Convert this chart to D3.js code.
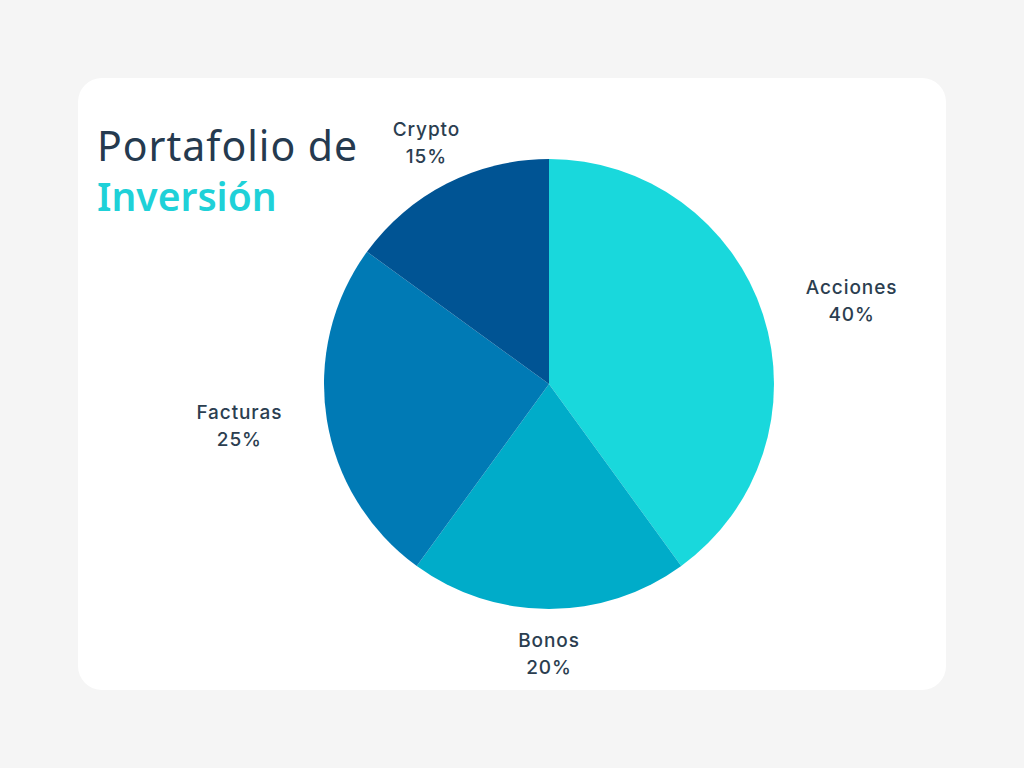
<!DOCTYPE html>
<html><head><meta charset="utf-8">
<script src="https://cdn.jsdelivr.net/npm/d3@7"></script>
<style>
html,body{margin:0;padding:0;background:#f5f5f5;}
svg{display:block;}
</style></head>
<body>
<svg id="chart" width="1024" height="768"></svg>
<script>
const categories = ["Acciones", "Bonos", "Facturas", "Crypto"];
const values = [40, 20, 25, 15];
const colors = ["#19d8dc", "#00acc9", "#007ab5", "#005494"];
const titleLine1 = "Portafolio de";
const titleLine2 = "Inversión";

const svg = d3.select("#chart");
svg.append("rect").attr("x",0).attr("y",0).attr("width",1024).attr("height",768).attr("fill","#f5f5f5");
svg.append("rect").attr("x",78).attr("y",78).attr("width",868).attr("height",612).attr("rx",24).attr("fill","#ffffff");

svg.append("text").attr("x",97).attr("y",161).attr("font-family","'Noto Sans', 'Open Sans', sans-serif")
  .attr("font-size",41).attr("letter-spacing",1).attr("fill","#253a4f").text(titleLine1);
svg.append("text").attr("x",97).attr("y",211).attr("font-family","'Noto Sans', 'Open Sans', sans-serif")
  .attr("font-size",39).attr("font-weight",600).attr("fill","#1fd1d8").text(titleLine2);

const cx = 549, cy = 384, R = 225;
const data = categories.map((c,i)=>({cat:c, value:values[i], color:colors[i]}));
const pie = d3.pie().value(d=>d.value).sort(null);
const arcs = pie(data);
const arc = d3.arc().innerRadius(0).outerRadius(R);
const labelArc = d3.arc().innerRadius(R*1.2).outerRadius(R*1.2);

const g = svg.append("g").attr("transform",`translate(${cx},${cy})`);
g.selectAll("path").data(arcs).join("path").attr("d",arc).attr("fill",d=>d.data.color);

arcs.forEach(d=>{
  const [lx, ly] = labelArc.centroid(d);
  const t = g.append("text").attr("font-family","Inter, 'Noto Sans', sans-serif")
    .attr("font-size",19).attr("font-weight",500).attr("letter-spacing",0.9)
    .attr("fill","#2b3e50").attr("text-anchor","middle");
  const t1 = t.append("tspan").attr("x",0).attr("y",ly - 7).text(d.data.cat);
  const t2 = t.append("tspan").attr("x",0).attr("y",ly + 20).text(d.data.value + "%");
  const w = Math.max(t1.node().getComputedTextLength(), t2.node().getComputedTextLength());
  const mid = (d.startAngle + d.endAngle)/2;
  const s = Math.sin(mid);
  let x = lx;
  if (s > 0.6) x = lx + w/2; else if (s < -0.6) x = lx - w/2;
  t1.attr("x", x); t2.attr("x", x);
});
</script>
</body></html>
